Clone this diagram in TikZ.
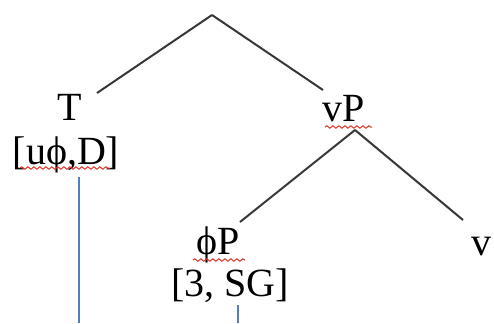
\documentclass[tikz,border=0pt]{standalone}
\usepackage{fontspec}
\setmainfont{Liberation Serif}
\usetikzlibrary{decorations.pathmorphing}
\definecolor{branch}{RGB}{55,55,55}
\definecolor{feat}{RGB}{79,129,189}
\definecolor{spell}{RGB}{225,45,30}
\tikzset{
  label text/.style={inner sep=0pt, font=\fontsize{20}{24}\selectfont},
  branch line/.style={branch, line width=1pt},
  feat line/.style={feat, line width=0.8pt},
  spell mark/.style={spell, line width=0.5pt, decorate,
    decoration={snake, amplitude=0.6pt, segment length=3pt}}
}
\begin{document}
\begin{tikzpicture}[x=0.5pt,y=-0.5pt]
    \useasboundingbox (0,0) rectangle (494,323);
    %labels
    \coordinate (root) at (212,15);
    \node[label text] (T) at (70,107) {T};
    \node[label text] (Tfeat) at (66,155) {[uϕ,D]};
    \node[label text] (vP) at (344,109) {vP};
    \node[label text] (phiP) at (218,245) {ϕP};
    \node[label text] (phiFeat) at (230,286) {[3, SG]};
    \node[label text] (v) at (481,246.5) {v};
    \coordinate (Tfoot) at (79,323);
    \coordinate (phiFoot) at (238,323);

    %branches
    \draw[branch line] (root) -- ([shift={(27,-14)}]T.center);
    \draw[branch line] (root) -- ([shift={(-21,-19)}]vP.center);
    \coordinate (vPjoin) at ([shift={(11,21)}]vP.center);
    \draw[branch line] (vPjoin) -- ([shift={(22,-23)}]phiP.center);
    \draw[branch line] (vPjoin) -- ([shift={(-18,-26.5)}]v.center);

    %feature lines
    \draw[feat line] ([shift={(13,22)}]Tfeat.center) -- (Tfoot);
    \draw[feat line] ([shift={(8,19)}]phiFeat.center) -- (phiFoot);

    %spelling marks
    \draw[spell mark] ([shift={(-46,13)}]Tfeat.center) -- ++(90,0);
    \draw[spell mark] ([shift={(-19,18)}]vP.center) -- ++(47,0);
    \draw[spell mark] ([shift={(-25,15)}]phiP.center) -- ++(52,0);
\end{tikzpicture}
\end{document}
